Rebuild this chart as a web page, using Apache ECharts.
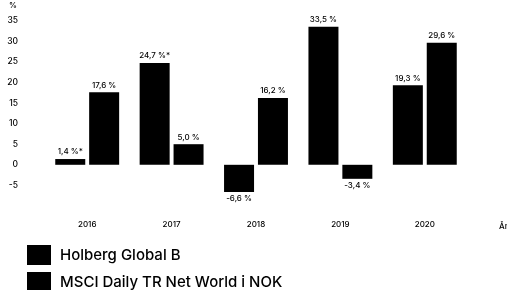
<!DOCTYPE html>
<html>
<head>
<meta charset="utf-8">
<script src="https://cdn.jsdelivr.net/npm/echarts@6/dist/echarts.min.js"></script>
<style>
  html, body { margin: 0; padding: 0; background: #fff; }
  #main { width: 507px; height: 290px; }
</style>
</head>
<body>
<div id="main"></div>
<script>
// årlig avkastning
var years = ['2016', '2017', '2018', '2019', '2020'];
var holberg = [1.4, 24.7, -6.6, 33.5, 19.3];
var msci = [17.6, 5.0, 16.2, -3.4, 29.6];
var holbergNotes = ['*', '*', '', '', ''];
var msciNotes = ['', '', '', '', ''];
var seriesNames = ['Holberg Global B', 'MSCI Daily TR Net World i NOK'];
var yTicks = [-5, 0, 5, 10, 15, 20, 25, 30, 35];

var font = 'Inter, Lato, sans-serif';

function fmt(v) {
  return v.toFixed(1).replace('.', ',') + ' %';
}

// lag data med etikett over / under stolpen
function buildData(values, notes) {
  return values.map(function (v, i) {
    return {
      value: v,
      label: {
        position: v < 0 ? 'bottom' : 'top',
        formatter: fmt(v) + notes[i]
      }
    };
  });
}

var myChart = echarts.init(document.getElementById('main'));
var option = {
  animation: false,
  title: [
    { text: '%', left: 4, top: -3, textStyle: { fontSize: 8, fontWeight: 500, color: '#000', fontFamily: font } },
    { text: 'År', left: 494, top: 218, textStyle: { fontSize: 8, fontWeight: 500, color: '#000', fontFamily: font } }
  ],
  grid: { left: 45, right: 40, top: 0, bottom: 84 },
  legend: {
    orient: 'vertical',
    left: 27,
    top: 245,
    height: 80,
    padding: 0,
    itemWidth: 24,
    itemHeight: 20,
    itemGap: 7,
    icon: 'rect',
    textStyle: { fontSize: 15, fontWeight: 500, color: '#000', fontFamily: font, padding: [0, 0, 0, 4] },
    data: seriesNames
  },
  xAxis: {
    type: 'category',
    data: years,
    axisLine: { show: false },
    axisTick: { show: false },
    axisLabel: { color: '#000', fontSize: 8, fontWeight: 500, margin: 15, fontFamily: font }
  },
  yAxis: {
    type: 'value',
    min: -10,
    max: 40,
    interval: 5,
    splitLine: { show: false },
    axisLine: { show: false },
    axisTick: { show: false },
    axisLabel: {
      color: '#000',
      fontSize: 8.5,
      fontWeight: 500,
      margin: 27,
      fontFamily: font,
      formatter: function (v) {
        return yTicks.indexOf(v) >= 0 ? String(v) : '';
      }
    }
  },
  series: [
    {
      name: seriesNames[0],
      type: 'bar',
      barWidth: 30,
      barGap: '13%',
      itemStyle: { color: '#000' },
      label: { show: true, color: '#000', fontSize: 8, fontWeight: 500, distance: 3, fontFamily: font },
      data: buildData(holberg, holbergNotes)
    },
    {
      name: seriesNames[1],
      type: 'bar',
      barWidth: 30,
      itemStyle: { color: '#000' },
      label: { show: true, color: '#000', fontSize: 8, fontWeight: 500, distance: 3, fontFamily: font },
      data: buildData(msci, msciNotes)
    }
  ]
};
myChart.setOption(option);
</script>
</body>
</html>
